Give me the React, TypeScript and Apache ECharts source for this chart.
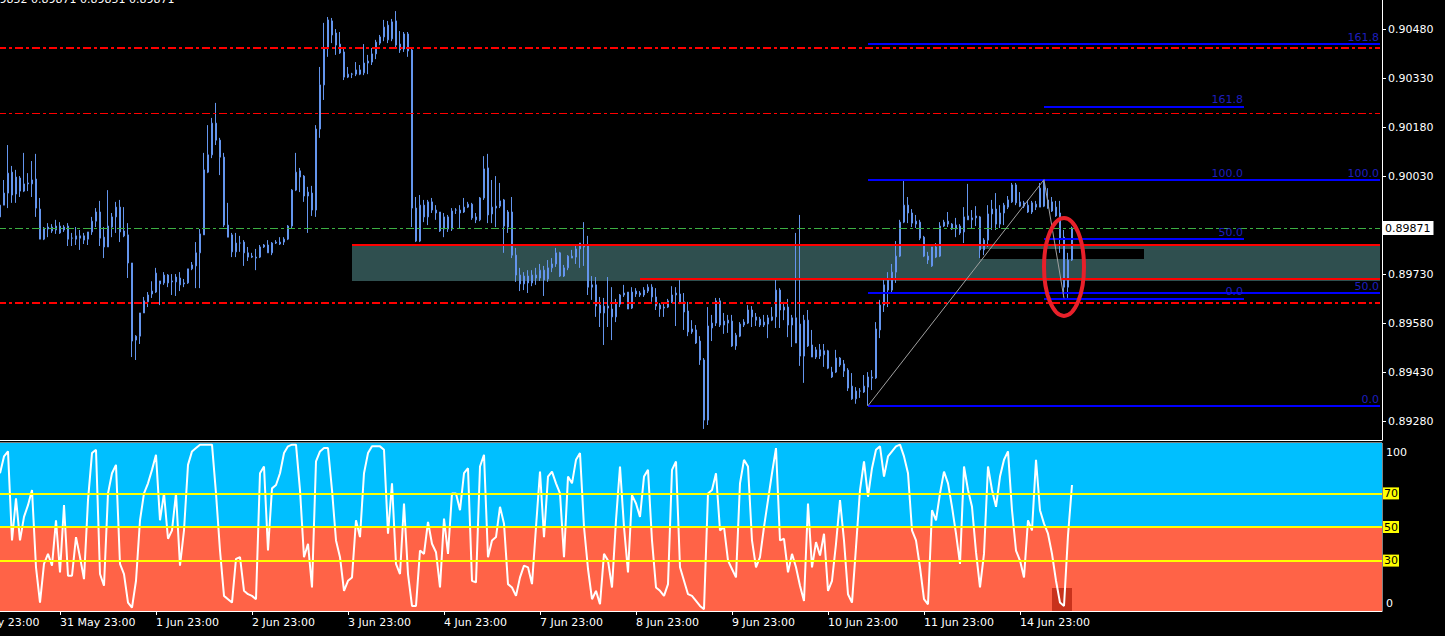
import { useEffect, useRef } from 'react';
import * as echarts from 'echarts';

const FONT = 'DejaVu Sans, sans-serif';
const OFFSET = 9; // empty slots before the first visible candle
const SLOTS = 355;

const timeLabels = [
  '28 May 23:00', '31 May 23:00', '1 Jun 23:00', '2 Jun 23:00', '3 Jun 23:00', '4 Jun 23:00',
  '7 Jun 23:00', '8 Jun 23:00', '9 Jun 23:00', '10 Jun 23:00', '11 Jun 23:00', '14 Jun 23:00',
];
const priceTicks = [0.8928, 0.8943, 0.8958, 0.8973, 0.9003, 0.9018, 0.9033, 0.9048];
const priceMin = 0.892221;
const priceMax = 0.90569;
const headerText = '0.89852 0.89871 0.89851 0.89871';
const lastPrice = 0.89871;

// open, high, low, close in points (0.00001)
const candles: number[][] = [
  [89941, 89951, 89896, 89905], [89941, 90018, 89941, 89978], [89978, 90125, 89932, 90039], [90042, 90061, 89948, 89972],
  [89975, 90049, 89948, 90027], [90024, 90030, 89966, 89984], [89984, 90101, 89981, 90006], [90009, 90039, 89984, 90006],
  [90006, 90076, 89966, 90018], [90021, 90098, 89905, 89932], [89929, 89963, 89837, 89837], [89837, 89874, 89834, 89871],
  [89874, 89886, 89843, 89868], [89874, 89883, 89856, 89862], [89865, 89896, 89853, 89877], [89877, 89889, 89853, 89856],
  [89865, 89880, 89859, 89874], [89877, 89886, 89816, 89837], [89840, 89856, 89816, 89840], [89837, 89874, 89819, 89847],
  [89847, 89865, 89804, 89840], [89847, 89856, 89822, 89834], [89837, 89859, 89819, 89859], [89859, 89905, 89850, 89892],
  [89892, 89932, 89874, 89920], [89920, 89954, 89816, 89840], [89843, 89874, 89779, 89813], [89813, 89987, 89813, 89877],
  [89874, 89917, 89843, 89905], [89905, 89951, 89856, 89935], [89935, 89957, 89828, 89859], [89862, 89935, 89843, 89847],
  [89850, 89886, 89718, 89764], [89764, 89764, 89476, 89525], [89528, 89543, 89467, 89540], [89540, 89611, 89516, 89611],
  [89611, 89660, 89611, 89648], [89645, 89675, 89629, 89666], [89669, 89708, 89657, 89678], [89675, 89749, 89672, 89733],
  [89709, 89709, 89635, 89700], [89703, 89736, 89697, 89727], [89727, 89730, 89690, 89703], [89706, 89730, 89666, 89709],
  [89706, 89730, 89663, 89721], [89718, 89736, 89678, 89697], [89700, 89715, 89690, 89703], [89703, 89746, 89700, 89746],
  [89746, 89767, 89742, 89758], [89755, 89828, 89687, 89795], [89795, 89868, 89687, 89853], [89850, 90101, 89850, 90049],
  [90042, 90186, 90039, 90095], [90095, 90208, 90085, 90192], [90192, 90254, 90125, 90140], [90140, 90147, 90033, 90088],
  [90088, 90101, 89874, 89880], [89880, 89948, 89843, 89843], [89850, 89856, 89782, 89798], [89798, 89856, 89782, 89825],
  [89825, 89847, 89798, 89825], [89828, 89834, 89755, 89795], [89795, 89813, 89770, 89782], [89785, 89795, 89779, 89782],
  [89782, 89807, 89742, 89779], [89782, 89819, 89779, 89813], [89813, 89822, 89810, 89819], [89819, 89834, 89795, 89795],
  [89795, 89828, 89788, 89825], [89825, 89834, 89822, 89828], [89822, 89843, 89819, 89828], [89828, 89843, 89819, 89837],
  [89837, 89880, 89834, 89877], [89877, 89990, 89871, 89987], [89987, 90101, 89984, 90042], [90046, 90055, 89981, 90027],
  [90030, 90033, 89951, 89969], [89969, 89997, 89856, 89981], [89978, 90000, 89908, 89926], [89926, 90186, 89905, 90174],
  [90174, 90364, 90147, 90309], [90309, 90499, 90263, 90422], [90422, 90517, 90395, 90508], [90505, 90514, 90437, 90462],
  [90468, 90480, 90401, 90431], [90434, 90471, 90404, 90407], [90410, 90422, 90324, 90333], [90333, 90364, 90330, 90342],
  [90342, 90346, 90330, 90342], [90342, 90379, 90336, 90355], [90355, 90370, 90339, 90342], [90346, 90434, 90339, 90376],
  [90376, 90401, 90342, 90382], [90379, 90422, 90370, 90404], [90404, 90447, 90388, 90440], [90437, 90462, 90431, 90456],
  [90456, 90508, 90443, 90486], [90492, 90505, 90437, 90447], [90450, 90511, 90443, 90502], [90505, 90535, 90425, 90431],
  [90434, 90474, 90407, 90416], [90419, 90471, 90410, 90465], [90465, 90471, 90395, 90413], [90416, 90419, 89874, 89932],
  [89932, 89966, 89828, 89831], [89831, 89972, 89828, 89941], [89941, 89957, 89889, 89905], [89905, 89957, 89880, 89951],
  [89951, 89963, 89917, 89926], [89926, 89941, 89896, 89917], [89920, 89920, 89859, 89862], [89868, 89917, 89843, 89905],
  [89905, 89911, 89859, 89868], [89868, 89932, 89862, 89923], [89926, 89932, 89914, 89926], [89926, 89941, 89871, 89917],
  [89920, 89963, 89917, 89935], [89935, 89951, 89932, 89944], [89944, 89948, 89896, 89902], [89905, 89917, 89886, 89896],
  [89896, 89966, 89892, 89963], [89963, 90091, 89957, 90052], [90055, 90098, 89886, 89911], [89914, 90018, 89886, 89935],
  [89938, 90030, 89874, 89932], [89938, 90009, 89932, 89954], [89957, 89960, 89795, 89877], [89874, 89926, 89856, 89920],
  [89920, 89966, 89779, 89788], [89788, 89810, 89706, 89727], [89727, 89749, 89678, 89700], [89700, 89736, 89681, 89724],
  [89724, 89742, 89672, 89703], [89703, 89742, 89693, 89727], [89727, 89749, 89697, 89718], [89718, 89761, 89709, 89742],
  [89742, 89755, 89663, 89712], [89715, 89773, 89706, 89749], [89749, 89779, 89736, 89761], [89761, 89810, 89752, 89795],
  [89795, 89798, 89721, 89724], [89724, 89758, 89721, 89749], [89749, 89788, 89742, 89785], [89785, 89804, 89779, 89779],
  [89782, 89816, 89761, 89807], [89807, 89825, 89749, 89825], [89816, 89889, 89755, 89813], [89816, 89847, 89666, 89690],
  [89697, 89724, 89651, 89690], [89697, 89721, 89599, 89632], [89635, 89660, 89568, 89611], [89611, 89657, 89513, 89632],
  [89632, 89721, 89568, 89626], [89623, 89690, 89528, 89599], [89599, 89654, 89583, 89638], [89638, 89669, 89629, 89666],
  [89666, 89697, 89660, 89672], [89675, 89675, 89623, 89623], [89626, 89690, 89623, 89675], [89678, 89687, 89660, 89669],
  [89672, 89678, 89660, 89666], [89666, 89690, 89660, 89681], [89678, 89699, 89672, 89690], [89690, 89699, 89645, 89660],
  [89660, 89687, 89620, 89632], [89635, 89641, 89599, 89623], [89629, 89641, 89599, 89626], [89629, 89654, 89626, 89648],
  [89645, 89693, 89641, 89666], [89672, 89690, 89571, 89666], [89669, 89712, 89638, 89641], [89645, 89672, 89559, 89614],
  [89617, 89645, 89540, 89553], [89553, 89589, 89547, 89562], [89559, 89574, 89516, 89519], [89525, 89540, 89452, 89467],
  [89467, 89473, 89256, 89283], [89283, 89629, 89268, 89571], [89565, 89605, 89525, 89580], [89580, 89657, 89571, 89648],
  [89648, 89657, 89568, 89574], [89574, 89611, 89547, 89586], [89589, 89605, 89550, 89580], [89586, 89605, 89507, 89510],
  [89510, 89550, 89498, 89543], [89540, 89583, 89537, 89577], [89574, 89592, 89568, 89583], [89580, 89635, 89577, 89620],
  [89620, 89632, 89568, 89599], [89599, 89611, 89571, 89589], [89592, 89599, 89568, 89574], [89574, 89605, 89568, 89583],
  [89577, 89605, 89534, 89596], [89589, 89629, 89586, 89599], [89599, 89712, 89565, 89681], [89681, 89687, 89565, 89620],
  [89620, 89645, 89589, 89629], [89629, 89654, 89537, 89574], [89574, 89605, 89507, 89596], [89596, 89856, 89519, 89519],
  [89577, 89911, 89449, 89479], [89479, 89605, 89397, 89589], [89589, 89620, 89507, 89510], [89513, 89559, 89476, 89476],
  [89476, 89507, 89470, 89498], [89498, 89516, 89470, 89479], [89483, 89516, 89446, 89495], [89495, 89498, 89439, 89442],
  [89415, 89446, 89412, 89430], [89430, 89498, 89427, 89473], [89473, 89476, 89446, 89452], [89455, 89467, 89415, 89433],
  [89436, 89442, 89372, 89381], [89387, 89427, 89345, 89348], [89348, 89384, 89333, 89372], [89372, 89381, 89351, 89372],
  [89369, 89421, 89366, 89387], [89384, 89430, 89327, 89415], [89415, 89436, 89375, 89412], [89412, 89583, 89409, 89562],
  [89559, 89651, 89534, 89635], [89635, 89712, 89614, 89697], [89712, 89736, 89629, 89681], [89681, 89761, 89675, 89736],
  [89736, 89831, 89703, 89785], [89785, 89896, 89782, 89889], [89889, 90018, 89886, 89941], [89941, 89966, 89886, 89917],
  [89917, 89929, 89874, 89886], [89892, 89911, 89871, 89883], [89889, 89896, 89834, 89840], [89843, 89847, 89782, 89785],
  [89785, 89798, 89761, 89773], [89755, 89813, 89752, 89813], [89813, 89825, 89779, 89782], [89785, 89889, 89782, 89877],
  [89877, 89896, 89874, 89889], [89892, 89920, 89874, 89883], [89883, 89886, 89865, 89868], [89868, 89902, 89843, 89880],
  [89877, 89883, 89850, 89856], [89859, 89935, 89825, 89905], [89908, 90006, 89896, 89896], [89896, 89926, 89868, 89902],
  [89908, 89938, 89877, 89902], [89905, 89908, 89779, 89804], [89804, 89840, 89788, 89834], [89834, 89941, 89813, 89914],
  [89914, 89957, 89865, 89929], [89929, 89978, 89865, 89883], [89883, 89941, 89871, 89917], [89917, 89948, 89880, 89941],
  [89935, 89969, 89929, 89957], [89951, 90009, 89948, 90003], [90003, 90009, 89941, 89948], [89951, 89981, 89935, 89938],
  [89938, 89954, 89932, 89948], [89920, 89957, 89917, 89941], [89948, 89954, 89914, 89920], [89935, 89954, 89926, 89944],
  [89935, 90009, 89935, 89993], [90009, 90019, 89935, 89938], [89957, 89993, 89930, 89932], [89951, 89966, 89920, 89923],
  [89935, 89954, 89905, 89908], [89917, 89954, 89795, 89840], [89843, 89865, 89660, 89690], [89690, 89795, 89657, 89773],
  [89773, 89875, 89770, 89871],
];

const oscillator = [
  82, 92, 95, 42, 67, 42, 56, 63, 72, 26, 5, 28, 34, 27, 54, 23, 63, 21, 21, 44,
  32, 19, 66, 94, 96, 22, 15, 70, 82, 87, 28, 22, 5, 2, 18, 54, 70, 76, 84, 93,
  54, 70, 43, 48, 70, 27, 48, 87, 95, 97, 99, 99, 99, 99, 70, 36, 9, 7, 5, 31,
  32, 12, 10, 9, 7, 82, 86, 36, 73, 75, 82, 94, 98, 99, 99, 72, 32, 40, 14, 89,
  95, 97, 97, 72, 42, 32, 12, 18, 20, 54, 44, 82, 94, 98, 98, 98, 96, 46, 76, 28,
  22, 64, 22, 3, 3, 36, 34, 53, 40, 35, 14, 55, 34, 70, 70, 60, 82, 85, 18, 17,
  86, 93, 32, 42, 44,
  62, 52, 16, 14, 9, 20, 27, 26, 16, 50, 83, 44, 80, 83, 76, 70, 32, 80, 76, 90,
  94, 50, 25, 7, 12, 4, 34, 30, 14, 54, 86, 50, 23, 69, 64, 56, 80, 84, 42, 14,
  12, 9, 16, 84, 89, 26, 18, 10, 9, 6, 3, 1, 70, 72, 82, 48, 50, 30, 25, 20,
  76, 90, 86, 42, 26, 32, 50, 66, 82, 97, 42, 43, 23, 34, 26, 15, 6, 64, 26, 41,
  33, 46, 12, 18, 40, 66, 42, 10, 5, 38, 72, 89, 68, 85, 96, 98, 80, 92, 95, 98,
  99, 92, 82, 48, 42, 26, 7, 4, 60, 54, 70, 83, 76, 62, 46, 28, 86, 72, 62, 35,
  14, 34, 86, 72, 62, 80, 90, 95, 60, 36, 30, 20, 54, 48, 90, 60, 52, 46, 34, 18,
  5, 3, 45, 75,
];

const dashDotLevels = [
  { price: 0.90422, width: 2 },
  { price: 0.90223, width: 1 },
  { price: 0.89642, width: 2 },
];
const zone = { fromBar: 88, top: 0.89821, bottom: 0.89709 };
const zoneLines = [
  { fromBar: 88, price: 0.89821 },
  { fromBar: 160, price: 0.89716 },
];
const fibWide = {
  fromBar: 217, toBar: 345,
  levels: [['0.0', 0.89327], ['50.0', 0.89673], ['100.0', 0.90019], ['161.8', 0.90435]] as [string, number][],
};
const fibShort = {
  fromBar: 261, toBar: 311,
  levels: [['0.0', 0.89656], ['50.0', 0.89837], ['100.0', 0.90019], ['161.8', 0.90243]] as [string, number][],
};
const fibTrends = [
  [[217, 0.89327], [261, 0.90019]],
  [[261, 0.90019], [266, 0.89656]],
];
const blackBox = { fromBar: 245, toBar: 286, top: 0.89807, bottom: 0.89776 };
const circle = { leftBar: 261, rightBar: 271, top: 0.89902, bottom: 0.89602 };
const oscLevels = [70, 50, 30];
const oscAxisLabels = [{ value: 94.2, text: '100' }, { value: 4.2, text: '0' }];
const oscHistBox = { fromBar: 263, toBar: 268, top: 13.7 };

const BLUE = '#0000FF';
const FIB_TEXT = '#1E1EBE';

export default function App() {
  const ref = useRef<HTMLDivElement>(null);

  useEffect(() => {
    if (!ref.current) return;
    const chart = echarts.init(ref.current, undefined, { renderer: 'svg' });
    const cats = Array.from({ length: SLOTS }, (_, i) => String(i));
    const pad = Array(OFFSET).fill('-');
    const candleData = [
      ...pad,
      ...candles.map(([o, h, l, c]) => [o / 1e5, c / 1e5, l / 1e5, h / 1e5]),
    ];
    const oscData = [...pad, ...oscillator];
    const lastSlot = SLOTS - 1;

    const fibLines = (fib: typeof fibWide) =>
      fib.levels.map(([name, p]) => [
        {
          coord: [fib.fromBar + OFFSET, p],
          lineStyle: { color: BLUE, width: 2, type: 'solid' },
          label: {
            show: true, position: 'insideEndTop', formatter: name, color: FIB_TEXT,
            fontSize: 11, fontFamily: FONT, distance: 1,
          },
        },
        { coord: [Math.min(fib.toBar + OFFSET, lastSlot), p] },
      ]);

    const markLines: any[] = [
      ...dashDotLevels.map((d) => [
        { coord: [0, d.price], lineStyle: { color: '#FF0000', width: d.width, type: [8, 3, 3, 3] } },
        { coord: [lastSlot, d.price] },
      ]),
      [
        {
          coord: [0, lastPrice],
          lineStyle: { color: '#3CB043', width: 1, type: [8, 3, 3, 3] },
          label: {
            show: true, position: 'end', formatter: lastPrice.toFixed(5), backgroundColor: '#FFFFFF',
            color: '#000000', padding: [2, 3, 1, 3], fontSize: 11, fontFamily: FONT, distance: 2,
          },
        },
        { coord: [lastSlot, lastPrice] },
      ],
      ...zoneLines.map((z) => [
        { coord: [z.fromBar + OFFSET, z.price], lineStyle: { color: '#FF0000', width: 2, type: 'solid' } },
        { coord: [lastSlot, z.price] },
      ]),
      ...fibLines(fibWide),
      ...fibLines(fibShort),
      ...fibTrends.map(([a, b]) => [
        { coord: [a[0] + OFFSET, a[1]], lineStyle: { color: '#A0A0A0', width: 1, type: 'solid' } },
        { coord: [b[0] + OFFSET, b[1]] },
      ]),
    ];

    const axisText = { color: '#FFFFFF', fontSize: 11, fontFamily: FONT };
    const labelSlot = (i: number) => i % 24 === 0 && i / 24 < timeLabels.length;

    chart.setOption({
      animation: false,
      backgroundColor: '#000000',
      grid: [
        { left: -38, top: 0, width: 1420, height: 440, outerBoundsMode: 'none', containLabel: false },
        {
          left: -38, top: 443, width: 1420, height: 168, outerBoundsMode: 'none', containLabel: false,
          show: true, borderColor: '#FFFFFF', borderWidth: 1,
        },
      ],
      xAxis: [
        {
          type: 'category', gridIndex: 0, data: cats, boundaryGap: true,
          axisLine: { show: true, onZero: false, lineStyle: { color: '#FFFFFF' } },
          axisTick: { show: false }, axisLabel: { show: false }, splitLine: { show: false },
        },
        {
          type: 'category', gridIndex: 1, data: cats, boundaryGap: true,
          axisLine: { show: true, onZero: false, lineStyle: { color: '#FFFFFF' } },
          axisTick: {
            show: true, alignWithLabel: true, length: 4, lineStyle: { color: '#FFFFFF' },
            interval: labelSlot,
          },
          axisLabel: {
            ...axisText, align: 'left', margin: 6,
            interval: labelSlot,
            formatter: (v: string) => timeLabels[Number(v) / 24] ?? '',
          },
          splitLine: { show: false },
        },
      ],
      yAxis: [
        {
          type: 'value', gridIndex: 0, position: 'right', min: priceMin, max: priceMax, scale: true,
          axisLine: { show: true, lineStyle: { color: '#FFFFFF' } },
          axisTick: { show: true, length: 4, lineStyle: { color: '#FFFFFF' }, customValues: priceTicks },
          axisLabel: { ...axisText, margin: 6, customValues: priceTicks, formatter: (v: number) => v.toFixed(5) },
          splitLine: { show: false },
        },
        {
          type: 'value', gridIndex: 1, position: 'right', min: 0, max: 100,
          axisLine: { show: false }, axisTick: { show: false },
          axisLabel: {
            ...axisText, margin: 4, customValues: oscAxisLabels.map((l) => l.value),
            formatter: (v: number) => oscAxisLabels.find((l) => Math.abs(l.value - v) < 0.01)?.text ?? '',
          },
          splitLine: { show: false },
        },
      ],
      series: [
        {
          type: 'candlestick', xAxisIndex: 0, yAxisIndex: 0, data: candleData, barWidth: 2,
          itemStyle: {
            color: BLUE, color0: '#6495ED', borderColor: '#6495ED', borderColor0: '#6495ED', borderWidth: 1,
          },
          silent: true,
          markArea: {
            silent: true,
            data: [
              [
                { coord: [zone.fromBar + OFFSET, zone.top], itemStyle: { color: '#2F4F4F', opacity: 1 } },
                { coord: [lastSlot, zone.bottom] },
              ],
              [
                { coord: [blackBox.fromBar + OFFSET, blackBox.top], itemStyle: { color: '#000000', opacity: 1 } },
                { coord: [blackBox.toBar + OFFSET, blackBox.bottom] },
              ],
            ],
          },
          markLine: {
            silent: true, symbol: ['none', 'none'], label: { show: false },
            data: markLines,
          },
        },
        {
          type: 'line', xAxisIndex: 1, yAxisIndex: 1, data: oscData, symbol: 'none', silent: true,
          lineStyle: { color: '#FFFFFF', width: 2 },
          markArea: {
            silent: true,
            data: [
              [{ yAxis: 50, itemStyle: { color: '#00BFFF', opacity: 1 } }, { yAxis: 100 }],
              [{ yAxis: 0, itemStyle: { color: '#FF6347', opacity: 1 } }, { yAxis: 50 }],
              [
                { xAxis: oscHistBox.fromBar + OFFSET, yAxis: 0, itemStyle: { color: '#C8321C', opacity: 1 } },
                { xAxis: oscHistBox.toBar + OFFSET, yAxis: oscHistBox.top },
              ],
            ],
          },
          markLine: {
            silent: true, symbol: ['none', 'none'],
            data: oscLevels.map((v) => ({
              yAxis: v,
              lineStyle: { color: '#FFFF00', width: 2, type: 'solid' },
              label: {
                show: true, position: 'end', formatter: String(v), backgroundColor: '#FFFF00',
                color: '#000000', padding: [1, 1, 0, 1], fontSize: 11, fontFamily: FONT, distance: 1,
              },
            })),
          },
        },
      ],
    });

    const a = chart.convertToPixel({ gridIndex: 0 }, [circle.leftBar + OFFSET, circle.top]) as number[];
    const b = chart.convertToPixel({ gridIndex: 0 }, [circle.rightBar + OFFSET, circle.bottom]) as number[];
    chart.setOption({
      graphic: [
        {
          type: 'text', x: -18, y: -6, silent: true,
          style: { text: headerText, fill: '#FFFFFF', font: `11px ${FONT}`, textVerticalAlign: 'top' },
        },
        {
          type: 'ellipse', z: 100, silent: true,
          shape: { cx: (a[0] + b[0]) / 2, cy: (a[1] + b[1]) / 2, rx: Math.abs(b[0] - a[0]) / 2, ry: Math.abs(b[1] - a[1]) / 2 },
          style: { fill: 'none', stroke: '#E8202A', lineWidth: 4 },
        },
      ],
    });

    return () => chart.dispose();
  }, []);

  return (
    <div
      ref={ref}
      style={{ position: 'fixed', left: 0, top: 0, width: 1445, height: 636, background: '#000' }}
    />
  );
}
